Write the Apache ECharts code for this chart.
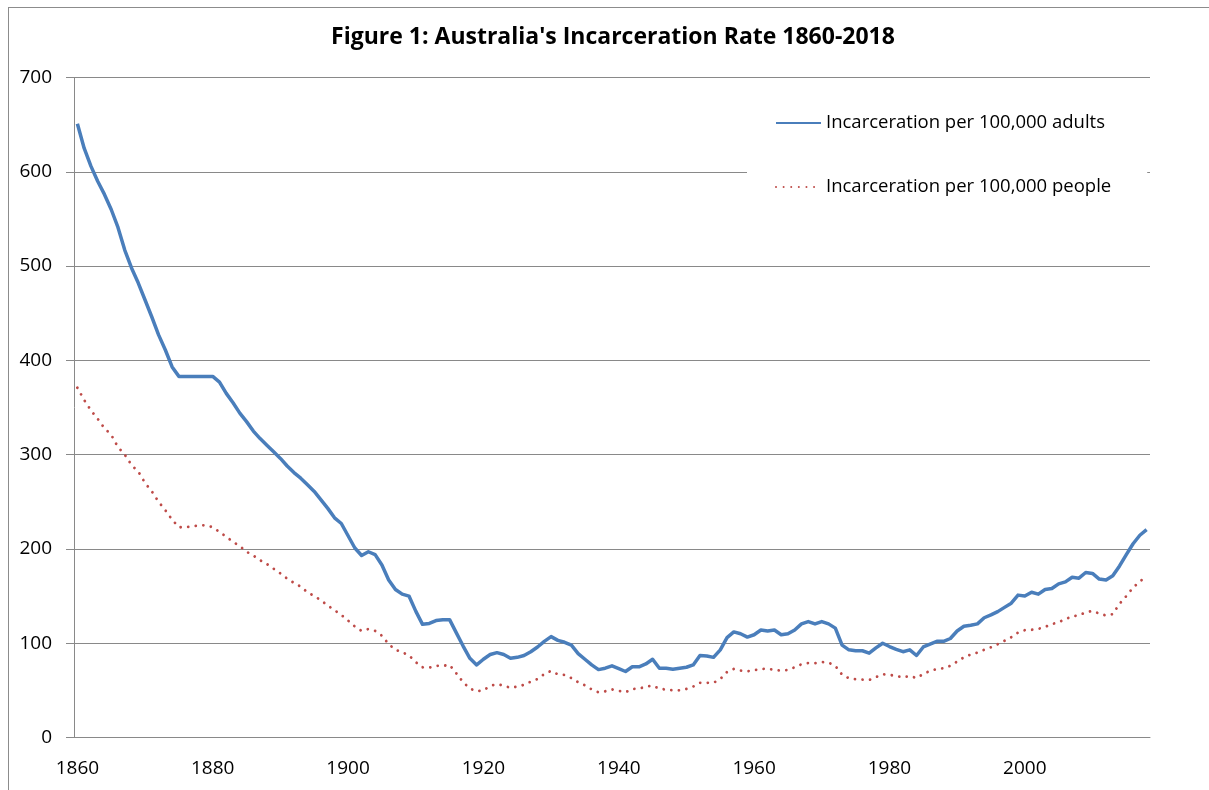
<!DOCTYPE html>
<html>
<head>
    <meta charset="utf-8">
    <title>Australia's Incarceration Rate 1860-2018</title>
    <script src="https://cdn.jsdelivr.net/npm/echarts@6.0.0/dist/echarts.min.js"></script>
    <style>
        body { margin: 0; background: #fff; }
        #chart { position: absolute; left: 0; top: 0; width: 1209px; height: 790px; }
        /* chart-area frame like the Excel original */
        #frame { position: absolute; left: 8px; top: 7px; width: 1300px; height: 900px;
                 border-top: 1px solid #8c8c8c; border-left: 1px solid #8c8c8c; pointer-events: none; }
    </style>
</head>
<body>
<div id="chart"></div>
<div id="frame"></div>
<script type="text/javascript">
    // 年份分类 1860-2018
    var years = [];
    for (var y = 1860; y <= 2018; y++) { years.push(String(y)); }

    // Incarceration per 100,000 adults
    var adults = [
        651, 625, 606, 590, 576, 560, 541, 517, 498, 482,
        464, 446, 427, 411, 393, 383, 383, 383, 383, 383,
        383, 377, 365, 355, 344, 335, 325, 317, 310, 303,
        296, 288, 281, 275, 268, 261, 252, 243, 233, 227,
        214, 201, 193, 197, 194, 183, 167, 157, 152, 150,
        134, 120, 121, 124, 125, 125, 111, 97, 84, 77,
        83, 88, 90, 88, 84, 85, 87, 91, 96, 102,
        107, 103, 101, 98, 89, 83, 77, 72, 73.5, 76,
        73, 70, 75, 75, 78, 83, 73.5, 73.5, 72.5, 73.5,
        74.5, 77, 87, 86.5, 85, 93, 106, 112, 110, 106.5,
        109, 114, 113, 114, 109, 110, 114, 120.5, 123, 120.5,
        123, 120.5, 116, 98, 93, 92, 92, 89.5, 95, 100,
        96.5, 93.5, 91, 93, 87, 96, 99, 102, 102, 105,
        113, 118, 119, 120.5, 127, 130, 133.5, 138, 142.5, 151,
        150, 154, 152, 157, 158, 163, 165, 170, 169, 175,
        174, 168, 167, 171.5, 182, 194, 205.5, 214.5, 220.5
    ];

    // Incarceration per 100,000 people
    var people = [
        371, 358, 347, 338, 328, 321, 308, 300, 289, 282,
        270, 261, 250, 241, 231, 223, 223, 224, 225, 225,
        223, 218, 213, 207.5, 203, 197, 193, 188, 184, 179,
        174, 168.5, 164, 160, 154, 150, 145.5, 140, 135, 130,
        124, 117.7, 113, 115, 113, 108, 99, 93, 90.5, 87,
        80, 74.5, 74, 76, 76, 77, 68, 58.6, 52, 49,
        50, 54.7, 56.5, 55, 52.6, 54, 55.8, 59.3, 62, 67.4,
        70.6, 67, 66.4, 63, 58.6, 55.4, 51, 48, 49, 51,
        49.5, 48, 51.5, 51.8, 54, 55, 51.8, 50.8, 50, 50,
        51.5, 54, 58, 58, 58, 62, 69.5, 72.7, 71, 70.3,
        71.3, 72.7, 73, 71.7, 71, 71.7, 74.5, 77.7, 79, 78.8,
        80, 79.5, 76, 66.7, 62.8, 61.8, 61.4, 61, 64, 67,
        66.4, 65.3, 63.7, 65.3, 63, 67.4, 70.6, 72.7, 73.4, 76,
        80.5, 85, 88, 90, 93, 95.7, 99, 102.5, 106.4, 111.3,
        113.8, 114.2, 115.2, 117.3, 120.2, 122.3, 125.5, 128.3, 129.7, 132.6,
        134.3, 131.5, 129.4, 130.8, 141.8, 150, 159, 165.5, 170.8
    ];

    var seriesNames = ['Incarceration per 100,000 adults', 'Incarceration per 100,000 people'];

    var font = '"Open Sans", "Noto Sans", sans-serif';
    var gray = '#898989';

    var myChart = echarts.init(document.getElementById('chart'));
    myChart.setOption({
        animation: false,
        title: {
            text: "Figure 1: Australia's Incarceration Rate 1860-2018",
            left: 608,
            textAlign: 'center',
            top: 21,
            textStyle: { fontFamily: font, fontSize: 23, fontWeight: 'bold', color: '#000' }
        },
        legend: {
            orient: 'vertical',
            left: 747,
            top: 95,
            padding: [18, 36, 18, 28],
            backgroundColor: '#fff',
            itemWidth: 45,
            itemHeight: 14,
            itemGap: 44,
            // 只画线，不画图例里的圆点
            itemStyle: { opacity: 0 },
            textStyle: { fontFamily: font, fontSize: 18.5, color: '#000', lineHeight: 20 },
            data: seriesNames
        },
        grid: { left: 74, right: 59, top: 77.5, bottom: 52.5 },
        xAxis: {
            type: 'category',
            data: years,
            boundaryGap: true,
            axisLine: { lineStyle: { color: gray, width: 1 } },
            axisTick: { interval: 0, length: 5, lineStyle: { color: gray } },
            axisLabel: { interval: 19, margin: 22, fontFamily: font, fontSize: 19, color: '#000' },
            splitLine: { show: false }
        },
        yAxis: {
            type: 'value',
            min: 0,
            max: 700,
            interval: 100,
            axisLine: { show: true, lineStyle: { color: gray, width: 1 } },
            axisTick: { show: true, length: 8, lineStyle: { color: gray } },
            axisLabel: { margin: 22, fontFamily: font, fontSize: 19, color: '#000' },
            splitLine: { lineStyle: { color: gray, width: 1 } }
        },
        series: [
            {
                name: seriesNames[0],
                type: 'line',
                data: adults,
                symbol: 'none',
                smooth: false,
                lineStyle: { color: '#4a7ebb', width: 3.5, join: 'round' },
                itemStyle: { color: '#4a7ebb' }
            },
            {
                name: seriesNames[1],
                type: 'line',
                data: people,
                symbol: 'none',
                lineStyle: { color: '#be4b48', width: 2.8, type: [0.01, 7.6], cap: 'round' },
                itemStyle: { color: '#be4b48' }
            }
        ]
    });
</script>
</body>
</html>
